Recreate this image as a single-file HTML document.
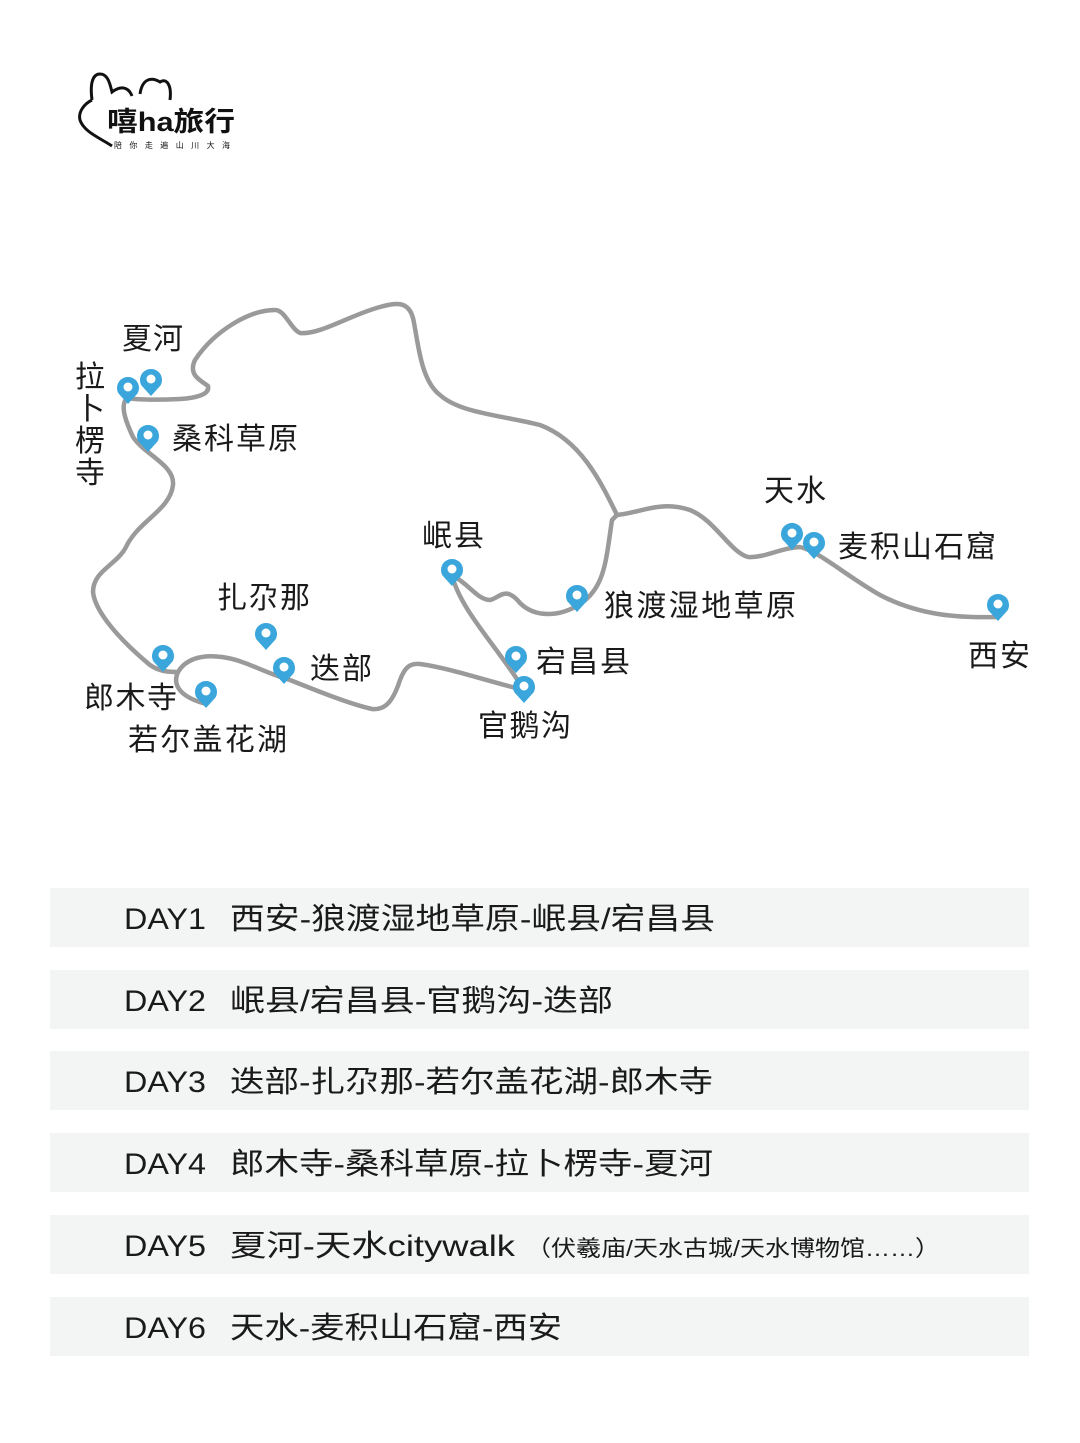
<!DOCTYPE html>
<html><head><meta charset="utf-8"><style>
html,body{margin:0;padding:0;background:#fff;width:1080px;height:1443px;overflow:hidden}
svg{display:block}
text{font-family:"Liberation Sans","Noto Sans CJK SC",sans-serif;fill:#1a1a1a}
</style></head><body>
<svg width="1080" height="1443" viewBox="0 0 1080 1443">
<defs>
<g id="pin"><path d="M0,0 L-9.5,-10.5 A11,11 0 1 1 9.5,-10.5 Z" fill="#3aa6dc"/><circle cx="0" cy="-17" r="4.5" fill="#fff"/></g>
</defs>
<!-- logo -->
<path d="M92,100 C90,85 92,74 100,74 C108,74 110,84 112,92 C120,86 128,86 132,96 M140,94 C142,80 150,76 160,82 C166,78 172,84 170,100 M92,100 C84,104 78,112 80,120 C84,132 100,138 112,146" fill="none" stroke="#111" stroke-width="3"/>
<text x="107" y="131" font-size="27" font-weight="bold" style="fill:#111" textLength="128" lengthAdjust="spacingAndGlyphs">嘻ha旅行</text>
<text x="114" y="148" font-size="8" style="fill:#111" textLength="116" lengthAdjust="spacing">陪你走遍山川大海</text>
<!-- route -->
<g fill="none" stroke="#9a9a9a" stroke-width="4.5" stroke-linecap="round" stroke-linejoin="round">
<path d="M617,515 C600,480 580,440 540,425 C500,415 460,413 440,395 C420,380 418,340 413,318 C408,300 395,303 380,307 C350,315 320,335 300,333 C290,328 285,310 275,310 C250,310 215,330 195,360 C188,375 200,380 208,386 C210,395 195,398 180,399 C160,400 137,400 127,398 C120,405 125,420 133,437 C145,455 175,465 173,485 C170,510 140,520 127,545 C118,565 93,570 93,592 C95,612 120,640 150,665 C160,672 170,672 178,672 C185,660 200,654 222,657 C245,660 262,672 290,680 C320,692 350,704 372,709 C383,710 392,705 400,680 C405,667 410,663 420,664 C450,668 490,682 524,690"/>
<path d="M178,672 C172,685 180,697 206,704"/>
<path d="M524,690 C500,650 460,610 452,575 C470,585 478,600 490,600 C500,598 505,585 520,603 C535,618 560,617 580,604 C605,588 606,560 612,520 L617,515"/>
<path d="M617,515 C640,513 660,500 690,510 C715,520 730,552 748,557 C765,558 780,548 800,547 C820,552 845,575 880,595 C920,616 960,618 998,617"/>
</g>
<!-- pins -->
<use href="#pin" x="128" y="404"/>
<use href="#pin" x="151" y="396"/>
<use href="#pin" x="148" y="452"/>
<use href="#pin" x="163" y="672"/>
<use href="#pin" x="206" y="708"/>
<use href="#pin" x="266" y="650"/>
<use href="#pin" x="284" y="684"/>
<use href="#pin" x="452" y="586"/>
<use href="#pin" x="516" y="673"/>
<use href="#pin" x="524" y="703"/>
<use href="#pin" x="577" y="612"/>
<use href="#pin" x="792" y="550"/>
<use href="#pin" x="814" y="559"/>
<use href="#pin" x="998" y="621"/>
<!-- labels -->
<g font-size="30">
<text x="122" y="349" textLength="61">夏河</text>
<text x="75" y="387">拉</text>
<text x="75" y="419">卜</text>
<text x="75" y="451">楞</text>
<text x="75" y="483">寺</text>
<text x="172" y="449" textLength="126">桑科草原</text>
<text x="217" y="608" textLength="93">扎尕那</text>
<text x="310" y="679" textLength="62">迭部</text>
<text x="84" y="708" textLength="93">郎木寺</text>
<text x="128" y="750" textLength="159">若尔盖花湖</text>
<text x="422" y="546" textLength="62">岷县</text>
<text x="536" y="672" textLength="94">宕昌县</text>
<text x="478" y="736" textLength="93">官鹅沟</text>
<text x="604" y="616" textLength="192">狼渡湿地草原</text>
<text x="764" y="501" textLength="62">天水</text>
<text x="838" y="557" textLength="158">麦积山石窟</text>
<text x="968" y="666" textLength="62">西安</text>
</g>
<!-- table -->
<g fill="#f3f4f4">
<rect x="50" y="888" width="979" height="59"/>
<rect x="50" y="970" width="979" height="59"/>
<rect x="50" y="1051" width="979" height="59"/>
<rect x="50" y="1133" width="979" height="59"/>
<rect x="50" y="1215" width="979" height="59"/>
<rect x="50" y="1297" width="979" height="59"/>
</g>
<g font-size="30">
<text x="124" y="929" textLength="82" lengthAdjust="spacingAndGlyphs">DAY1</text>
<text x="230" y="929" textLength="485" lengthAdjust="spacingAndGlyphs">西安-狼渡湿地草原-岷县/宕昌县</text>
<text x="124" y="1011" textLength="82" lengthAdjust="spacingAndGlyphs">DAY2</text>
<text x="230" y="1011" textLength="383" lengthAdjust="spacingAndGlyphs">岷县/宕昌县-官鹅沟-迭部</text>
<text x="124" y="1092" textLength="82" lengthAdjust="spacingAndGlyphs">DAY3</text>
<text x="230" y="1092" textLength="483" lengthAdjust="spacingAndGlyphs">迭部-扎尕那-若尔盖花湖-郎木寺</text>
<text x="124" y="1174" textLength="82" lengthAdjust="spacingAndGlyphs">DAY4</text>
<text x="230" y="1174" textLength="483" lengthAdjust="spacingAndGlyphs">郎木寺-桑科草原-拉卜楞寺-夏河</text>
<text x="124" y="1256" textLength="82" lengthAdjust="spacingAndGlyphs">DAY5</text>
<text x="230" y="1256" textLength="285" lengthAdjust="spacingAndGlyphs">夏河-天水citywalk</text>
<text x="526" y="1256" font-size="22" textLength="414" lengthAdjust="spacingAndGlyphs">（伏羲庙/天水古城/天水博物馆……）</text>
<text x="124" y="1338" textLength="82" lengthAdjust="spacingAndGlyphs">DAY6</text>
<text x="230" y="1338" textLength="332" lengthAdjust="spacingAndGlyphs">天水-麦积山石窟-西安</text>
</g>
</svg>
</body></html>
